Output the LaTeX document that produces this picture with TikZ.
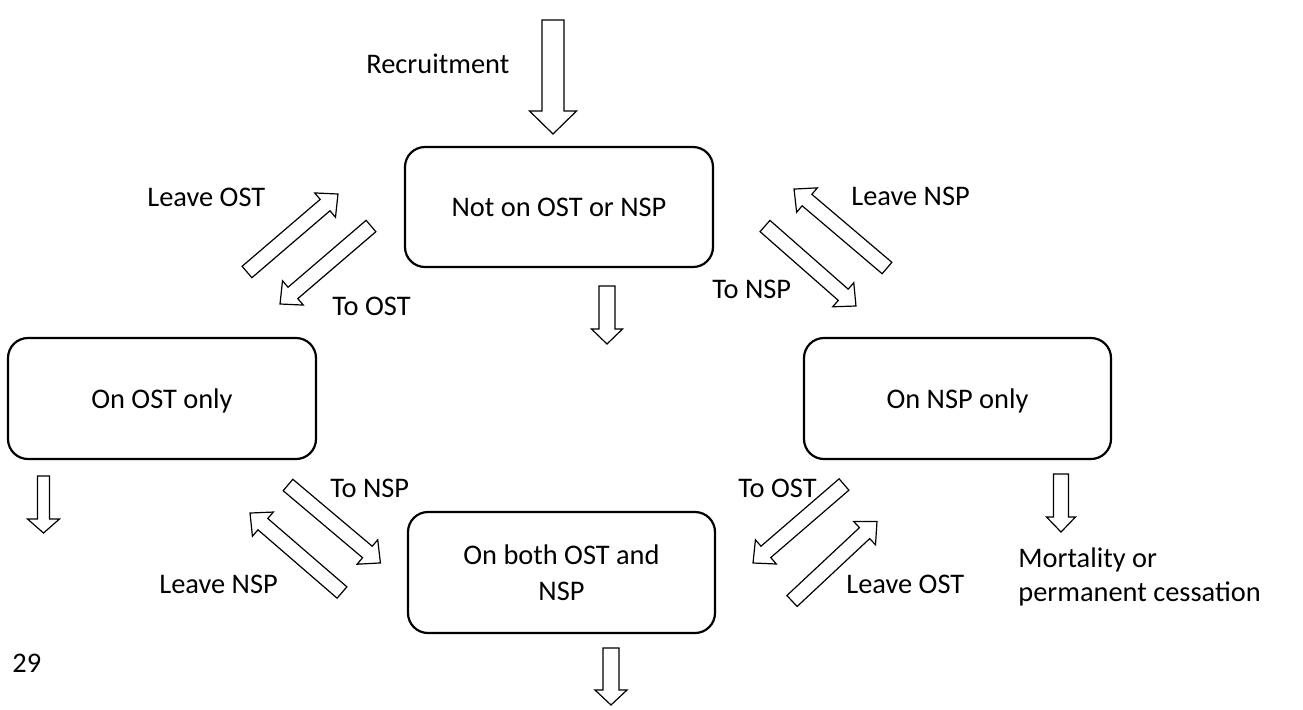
\documentclass[tikz,border=0pt]{standalone}
\usepackage{fontspec}
\setmainfont{Carlito}
\newcommand\barr[8]{%
  \coordinate (#1-tail) at (#2,#3);
  \coordinate (#1-tip) at (#4,#5);
  \pgfmathsetmacro\barrang{atan2(-(#5-#3),#4-#2)}%
  \pgfmathsetmacro\barrlen{veclen(#4-#2,#5-#3)}%
  \begin{scope}[shift={(#1-tail)}, x=0.5pt, y=0.5pt, rotate=\barrang]
    \draw[barrow] (0,{-#6}) -- ({\barrlen-#8},{-#6}) -- ({\barrlen-#8},{-#7}) -- ({\barrlen},0)
      -- ({\barrlen-#8},{#7}) -- ({\barrlen-#8},{#6}) -- (0,{#6}) -- cycle;
  \end{scope}}
\begin{document}
\begin{tikzpicture}[x=0.5pt,y=-0.5pt,
  every node/.style={font=\fontsize{14.2}{18}\selectfont, inner sep=0pt},
  state/.style={draw, line width=1.1pt, rounded corners=10pt, align=center, text depth=0pt},
  lbl/.style={anchor=base west},
  barrow/.style={draw, line width=0.6pt, fill=white, line join=miter}]
\useasboundingbox (0,0) rectangle (1303,709);
% states
\node[state, minimum width=154pt, minimum height=60pt] (none) at (559,207) {Not on OST or NSP};
\node[state, minimum width=154pt, minimum height=60.5pt] (ost) at (162,398.5) {On OST only};
\node[state, minimum width=153.5pt, minimum height=60.5pt] (nsp) at (957.5,398.5) {On NSP only};
\node[state, minimum width=153.5pt, minimum height=60.5pt] (both) at (561.5,572.5) {On both OST and\\NSP};
% vertical block arrows
\barr{rec}{553}{20}{553}{134}{11}{23.5}{23}
\barr{mid}{607}{286}{607}{344}{8}{15.5}{15}
\barr{exo}{43.5}{476}{43.5}{533}{6}{16}{14}
\barr{exn}{1061}{474}{1061}{532}{7.5}{14.5}{15}
\barr{exb}{611}{648}{611}{705}{8}{16}{15}
% diagonal block arrows
\barr{leaveostA}{247}{272}{338}{194}{7.5}{16}{17}
\barr{toostA}{371}{226}{280}{304}{7.5}{16}{17}
\barr{leavenspA}{887}{268}{794}{189}{7.5}{16}{17}
\barr{tonspA}{765}{226}{856}{306}{7.5}{16}{17}
\barr{tonspB}{288}{485}{380.5}{563}{7.5}{16}{17}
\barr{leavenspB}{342}{592.5}{250}{513}{7.5}{16}{17}
\barr{toostB}{844}{484.5}{753}{563}{7.5}{16}{17}
\barr{leaveostB}{792}{601}{877}{521.5}{7.5}{16}{17}
% labels
\node[lbl] (lrec) at (366,73) {Recruitment};
\node[lbl] (l1) at (147,206) {Leave OST};
\node[lbl] (l2) at (332,315) {To OST};
\node[lbl] (l3) at (851,205) {Leave NSP};
\node[lbl] (l4) at (712,298) {To NSP};
\node[lbl] (l5) at (330,497) {To NSP};
\node[lbl] (l6) at (159,593) {Leave NSP};
\node[lbl] (l7) at (738,497) {To OST};
\node[lbl] (l8) at (846,593) {Leave OST};
\node[lbl] (m1) at (1018,567) {Mortality or};
\node[lbl] (m2) at (1018,601) {permanent cessation};
\node[lbl] (pg) at (12,672) {29};
\end{tikzpicture}
\end{document}
